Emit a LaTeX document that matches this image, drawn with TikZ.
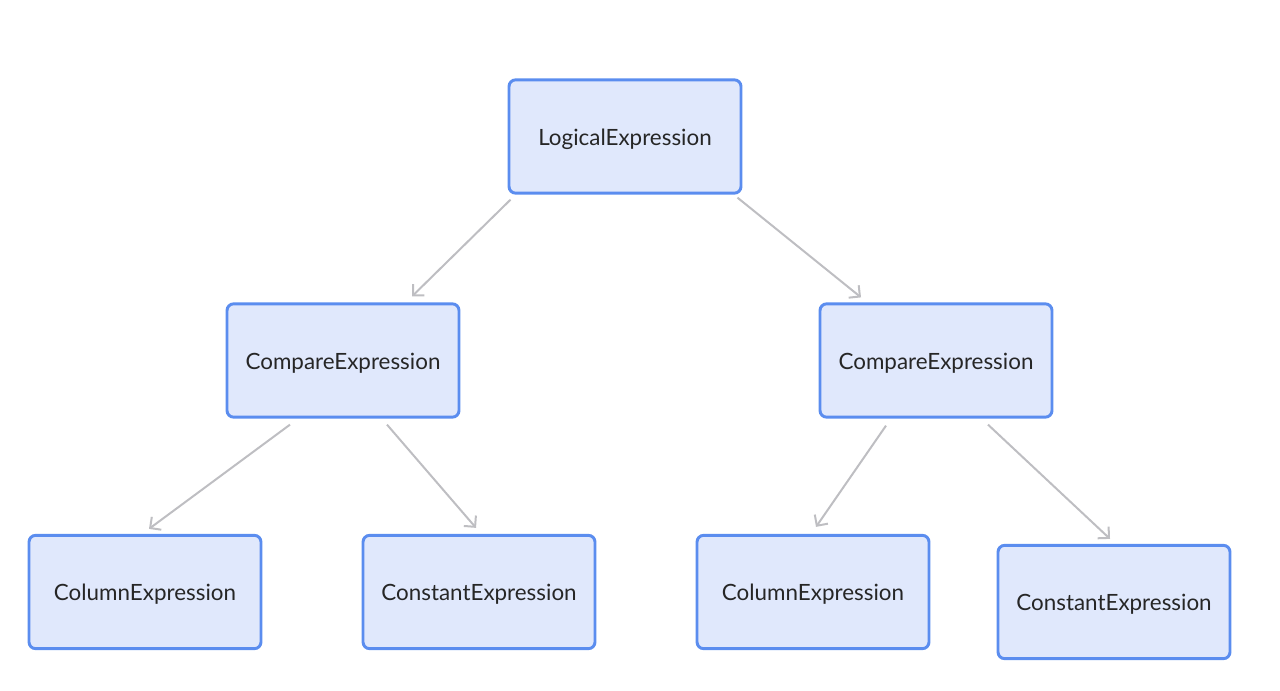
\documentclass[tikz,border=0pt]{standalone}
\usepackage{fontspec}
\setmainfont{Lato}
\usetikzlibrary{arrows.meta}
\definecolor{boxfill}{HTML}{E0E8FC}
\definecolor{boxline}{HTML}{5B8DEF}
\definecolor{arrowgray}{HTML}{BEBEC2}
\begin{document}
\begin{tikzpicture}
		[x=0.75pt, y=-0.75pt,
		block/.style ={rectangle, draw=boxline, line width=2.2pt, fill=boxfill, rounded corners=5pt, minimum width=174pt, minimum height=85pt, text height=17pt, text depth=4pt, font=\fontsize{16.8}{20}\selectfont, text=black!85},
		line/.style ={draw=arrowgray, line width=1.5pt, -{Straight Barb[length=6pt,width=12pt]}},
		]
		\useasboundingbox (0,0) rectangle (1280,690);

		\draw (625,136.5) node[block] (LE) {LogicalExpression};
		\draw (343,360.5) node[block] (CE1) {CompareExpression};
		\draw (936,360.5) node[block] (CE2) {CompareExpression};
		\draw (145,592) node[block] (CO1) {ColumnExpression};
		\draw (479,592) node[block] (CN1) {ConstantExpression};
		\draw (813,592) node[block] (CO2) {ColumnExpression};
		\draw (1114,602) node[block] (CN2) {ConstantExpression};

		\path
		([shift={(3,5)}]LE.south west) edge[line] ([shift={(69,-6)}]CE1.north)
		([shift={(-5,3)}]LE.south east) edge[line] ([shift={(-75,-5)}]CE2.north)
		([shift={(-53,6)}]CE1.south) edge[line] ([shift={(4,-5)}]CO1.north)
		([shift={(44,6)}]CE1.south) edge[line] ([shift={(-3,-6)}]CN1.north)
		([shift={(-50,7)}]CE2.south) edge[line] ([shift={(3,-7)}]CO2.north)
		([shift={(52,6)}]CE2.south) edge[line] ([shift={(-4,-5)}]CN2.north);
	\end{tikzpicture}
\end{document}
